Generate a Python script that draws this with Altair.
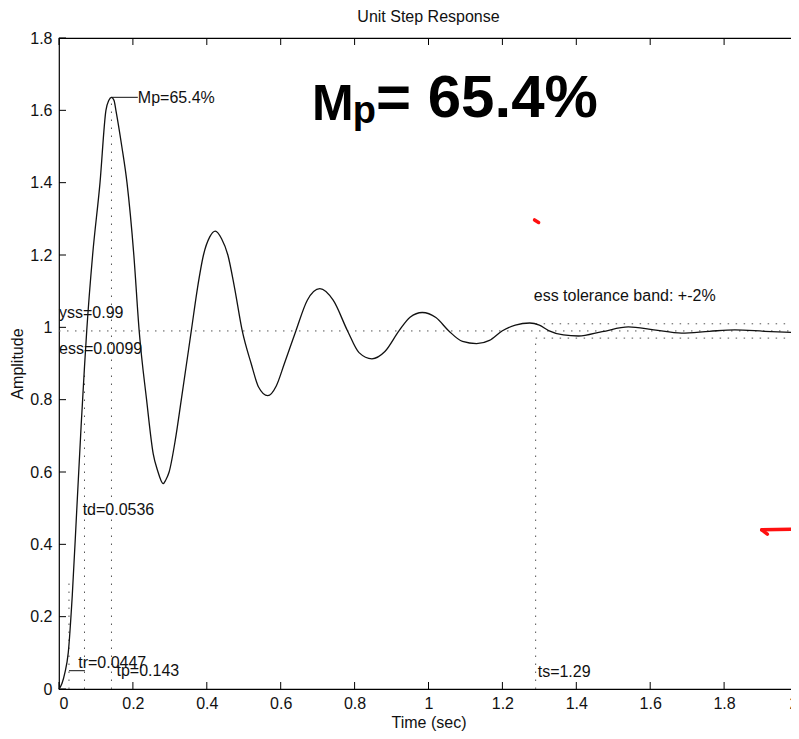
import altair as alt
import pandas as pd

FONT = "Liberation Sans"

# ---- step response curve ----
time_s = [0.000, 0.008, 0.016, 0.025, 0.036, 0.048, 0.060, 0.069, 0.075, 0.091,
          0.111, 0.127, 0.135, 0.142, 0.149, 0.154, 0.170, 0.184, 0.2025, 0.217,
          0.237, 0.255, 0.268, 0.275, 0.282, 0.289, 0.298, 0.315, 0.331, 0.358,
          0.375, 0.391, 0.408, 0.423, 0.440, 0.457, 0.475, 0.496, 0.520, 0.540,
          0.565, 0.588, 0.610, 0.641, 0.672, 0.706, 0.742, 0.781, 0.812, 0.847,
          0.882, 0.920, 0.950, 0.983, 1.020, 1.055, 1.092, 1.130, 1.165, 1.199,
          1.235, 1.274, 1.300, 1.325, 1.365, 1.406, 1.470, 1.541, 1.610, 1.685,
          1.760, 1.829, 1.910, 2.000]
amplitude = [0.000, 0.015, 0.045, 0.100, 0.260, 0.494, 0.730, 0.891, 0.990, 1.200,
             1.400, 1.600, 1.628, 1.636, 1.627, 1.600, 1.500, 1.400, 1.200, 0.990,
             0.800, 0.650, 0.600, 0.579, 0.568, 0.578, 0.600, 0.690, 0.800, 0.990,
             1.110, 1.200, 1.250, 1.266, 1.245, 1.200, 1.110, 0.990, 0.900, 0.835,
             0.811, 0.838, 0.900, 0.990, 1.075, 1.107, 1.075, 0.990, 0.930, 0.913,
             0.933, 0.990, 1.028, 1.041, 1.027, 0.990, 0.961, 0.955, 0.964, 0.990,
             1.006, 1.012, 1.006, 0.991, 0.979, 0.976, 0.988, 1.001, 0.993, 0.984,
             0.989, 0.993, 0.989, 0.985]

x_ticks = [0, 0.2, 0.4, 0.6, 0.8, 1.0, 1.2, 1.4, 1.6, 1.8, 2.0]
y_ticks = [0, 0.2, 0.4, 0.6, 0.8, 1.0, 1.2, 1.4, 1.6, 1.8]

chart_title = "Unit Step Response"

# ---- dotted guide lines (start/end in data units) ----
dot_t1 = [0.0, 0.142, 0.069, 0.027, 1.29, 1.29, 1.29]
dot_t2 = [2.0, 0.142, 0.069, 0.027, 1.29, 2.0, 2.0]
dot_v1 = [0.99, 0.0, 0.0, 0.0, 0.0, 1.0098, 0.9702]
dot_v2 = [0.99, 1.636, 0.891, 0.30, 0.9702, 1.0098, 0.9702]

# ---- solid leader lines ----
lead_t1 = [0.142, 0.027]
lead_t2 = [0.2133, 0.070]
lead_v1 = [1.636, 0.0506]
lead_v2 = [1.636, 0.0506]

# ---- annotation texts ----
labels = ["Mp=65.4%", "yss=0.99", "ess=0.0099", "td=0.0536", "tr=0.0447",
          "tp=0.143", "ts=1.29", "ess tolerance band: +-2%"]
label_t = [0.2133, 0.0, 0.0, 0.064, 0.052, 0.1557, 1.2955, 1.2848]
label_v = [1.635, 1.040, 0.939, 0.496, 0.071, 0.050, 0.048, 1.088]

# ---- handwritten note ----
hand_m = ["M"]
hand_m_t = [0.685]
hand_m_v = [1.615]
hand_sub = ["p"]
hand_sub_t = [0.795]
hand_sub_v = [1.566]
hand_rest = ["= 65.4%"]
hand_rest_t = [0.858]
hand_rest_v = [1.630]

# ---- red pen marks ----
red_t1 = [1.287, 1.902, 1.902]
red_t2 = [1.298, 2.000, 1.917]
red_v1 = [1.297, 0.440, 0.440]
red_v2 = [1.290, 0.442, 0.428]

W, H = 739, 651
TICK = 7

xs = alt.Scale(domain=[0, 2], nice=False, zero=False)
ys = alt.Scale(domain=[0, 1.8], nice=False, zero=False)

curve_df = pd.DataFrame({"t": time_s, "v": amplitude})
dot_df = pd.DataFrame({"t": dot_t1, "t2": dot_t2, "v": dot_v1, "v2": dot_v2})
lead_df = pd.DataFrame({"t": lead_t1, "t2": lead_t2, "v": lead_v1, "v2": lead_v2})
lab_df = pd.DataFrame({"label": labels, "t": label_t, "v": label_v})
hm_df = pd.DataFrame({"label": hand_m, "t": hand_m_t, "v": hand_m_v})
hs_df = pd.DataFrame({"label": hand_sub, "t": hand_sub_t, "v": hand_sub_v})
hr_df = pd.DataFrame({"label": hand_rest, "t": hand_rest_t, "v": hand_rest_v})
red_df = pd.DataFrame({"t": red_t1, "t2": red_t2, "v": red_v1, "v2": red_v2})
xt_df = pd.DataFrame({"t": x_ticks})
yt_df = pd.DataFrame({"v": y_ticks})
title_df = pd.DataFrame({"label": [chart_title]})

curve = alt.Chart(curve_df).mark_line(
    color="#111111", strokeWidth=1.3, interpolate="monotone"
).encode(
    x=alt.X("t:Q", scale=xs, axis=alt.Axis(
        values=x_ticks, format=".1~f", title="Time (sec)",
        titleY=33, titleBaseline="middle")),
    y=alt.Y("v:Q", scale=ys, axis=alt.Axis(
        values=y_ticks, format=".1~f", title="Amplitude",
        titleX=-42, titleBaseline="middle")),
)

dots = alt.Chart(dot_df).mark_rule(
    color="#555555", strokeWidth=1, strokeDash=[1.5, 6.5]
).encode(x=alt.X("t:Q", scale=xs), x2="t2:Q",
         y=alt.Y("v:Q", scale=ys), y2="v2:Q")

leads = alt.Chart(lead_df).mark_rule(color="#111111", strokeWidth=1).encode(
    x=alt.X("t:Q", scale=xs), x2="t2:Q", y=alt.Y("v:Q", scale=ys), y2="v2:Q")

texts = alt.Chart(lab_df).mark_text(
    align="left", baseline="middle", font=FONT, fontSize=16, color="#111111"
).encode(x=alt.X("t:Q", scale=xs), y=alt.Y("v:Q", scale=ys), text="label:N")

hand_kw = dict(align="left", font=FONT, fontWeight="bold", color="black")
hand1 = alt.Chart(hm_df).mark_text(baseline="middle", fontSize=50, **hand_kw).encode(
    x=alt.X("t:Q", scale=xs), y=alt.Y("v:Q", scale=ys), text="label:N")
hand2 = alt.Chart(hs_df).mark_text(baseline="alphabetic", fontSize=38, **hand_kw).encode(
    x=alt.X("t:Q", scale=xs), y=alt.Y("v:Q", scale=ys), text="label:N")
hand3 = alt.Chart(hr_df).mark_text(baseline="middle", fontSize=60, **hand_kw).encode(
    x=alt.X("t:Q", scale=xs), y=alt.Y("v:Q", scale=ys), text="label:N")

red = alt.Chart(red_df).mark_rule(
    color="#ff1010", strokeWidth=3.5, strokeCap="round"
).encode(x=alt.X("t:Q", scale=xs), x2="t2:Q", y=alt.Y("v:Q", scale=ys), y2="v2:Q")

title_txt = alt.Chart(title_df).mark_text(
    align="center", baseline="middle", font=FONT, fontSize=16, color="#111111"
).encode(x=alt.value(W / 2), y=alt.value(-21), text="label:N")

# inward ticks (MATLAB style) on all four sides
xb = alt.Chart(xt_df).mark_rule(color="black", strokeWidth=1).encode(
    x=alt.X("t:Q", scale=xs), y=alt.value(H), y2=alt.value(H - TICK))
xtop = alt.Chart(xt_df).mark_rule(color="black", strokeWidth=1).encode(
    x=alt.X("t:Q", scale=xs), y=alt.value(0), y2=alt.value(TICK))
yl = alt.Chart(yt_df).mark_rule(color="black", strokeWidth=1).encode(
    y=alt.Y("v:Q", scale=ys), x=alt.value(0), x2=alt.value(TICK))
yr = alt.Chart(yt_df).mark_rule(color="black", strokeWidth=1).encode(
    y=alt.Y("v:Q", scale=ys), x=alt.value(W), x2=alt.value(W - TICK))

chart = alt.layer(
    dots, xb, xtop, yl, yr, curve, leads, texts, hand1, hand2, hand3, red, title_txt
).properties(
    width=W, height=H,
    autosize=alt.AutoSizeParams(type="none"),
    padding={"left": 51, "top": 30, "right": -7, "bottom": 42},
).configure_view(
    stroke="black", strokeWidth=1.2
).configure_axis(
    domain=False, ticks=False, grid=False,
    labelFont=FONT, labelFontSize=16, labelColor="#111111",
    titleFont=FONT, titleFontSize=16, titleFontWeight="normal", titleColor="#111111",
).configure_axisX(labelPadding=6).configure_axisY(labelPadding=7)

chart.save("out.html", embed_options={"renderer": "svg", "actions": False})
